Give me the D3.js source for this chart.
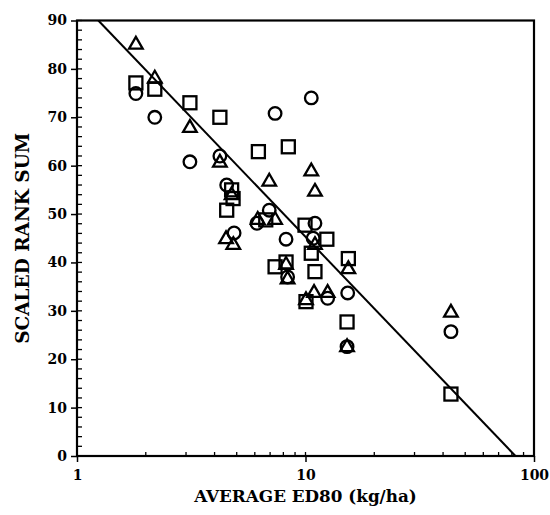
<!DOCTYPE html>
<html>
<head>
<meta charset="utf-8">
<script src="https://cdn.jsdelivr.net/npm/d3@7"></script>
<style>
    body { margin: 0; background: #fff; }
    svg text { font-family: "DejaVu Serif", serif; font-weight: bold; fill: #000; }
</style>
</head>
<body>
<svg id="chart" width="550" height="515"></svg>
<script>
// === DATA (ED80 in kg/ha, scaled rank sum) ===

const triangles = [
    [1.81, 85], [2.19, 78], [3.12, 67.8], [4.22, 60.6], [4.75, 53.9],
    [4.49, 44.8], [4.83, 43.6], [6.18, 48.8], [7.36, 48.8], [6.94, 56.7],
    [10.6, 58.8], [11.0, 54.6], [8.22, 39.5], [8.35, 36.5], [15.4, 38.6],
    [10.9, 33.7], [12.5, 33.7], [10.05, 32.2], [15.2, 22.5], [43.3, 29.6],
    [11.0, 43.6]
];

const squares = [
    [1.81, 77.1], [2.19, 75.8], [3.12, 73], [4.22, 70], [4.75, 55],
    [4.82, 53.2], [4.52, 50.8], [6.7, 48.8], [6.22, 62.9], [8.41, 63.9],
    [9.95, 47.7], [12.4, 44.8], [10.6, 41.9], [15.4, 40.8], [7.36, 39.1],
    [8.22, 40.1], [11.0, 38.1], [10.05, 31.9], [15.2, 27.7], [43.3, 12.8]
];

const circles = [
    [1.81, 74.9], [2.19, 70], [3.12, 60.8], [4.22, 62], [4.52, 56],
    [6.94, 50.8], [7.36, 70.8], [10.6, 74], [6.13, 48.1], [4.87, 46.1],
    [11.0, 48.1], [8.22, 44.8], [10.8, 45], [8.35, 37], [15.3, 33.7],
    [12.5, 32.6], [15.2, 22.6], [43.3, 25.7]
];

// fitted line: rank sum = a - b * log10(ED80)
const fitA = 94.6;
const fitB = 49.3;

const xMajor = [1, 10, 100];
const yMajor = [0, 10, 20, 30, 40, 50, 60, 70, 80, 90];

// === LAYOUT ===

const margin = { top: 20.5, right: 16, bottom: 59, left: 77 };
const W = 550, H = 515;

const svg = d3.select('#chart');

const x = d3.scaleLog().domain([1, 100]).range([margin.left, W - margin.right]);
const y = d3.scaleLinear().domain([0, 90]).range([H - margin.bottom, margin.top]);

// minor ticks
const xMinor = [];
[1, 10].forEach(d => { for (let k = 2; k <= 9; k++) xMinor.push(d * k); });
const yMinor = d3.range(0, 91, 2).filter(v => v % 10 !== 0);

// --- axes ---
const bottom = svg.append('g')
    .attr('transform', `translate(0,${y(0)})`);

bottom.call(d3.axisBottom(x).tickValues(xMajor).tickFormat(d3.format('d')).tickSize(6).tickSizeOuter(0))
    .call(g => g.select('.domain').remove())
    .call(g => g.selectAll('line').attr('stroke-width', 1.5))
    .call(g => g.selectAll('text').attr('font-size', 14).attr('dy', '1.05em'));

bottom.append('g')
    .selectAll('line')
    .data(xMinor.concat(xMajor))
    .join('line')
    .attr('x1', d => x(d)).attr('x2', d => x(d))
    .attr('y1', 0).attr('y2', -4)
    .attr('stroke', '#000').attr('stroke-width', 1.3);

const left = svg.append('g')
    .attr('transform', `translate(${x(1)},0)`);

left.call(d3.axisLeft(y).tickValues(yMajor).tickSize(6).tickSizeOuter(0).tickPadding(4))
    .call(g => g.select('.domain').remove())
    .call(g => g.selectAll('line').attr('stroke-width', 1.5))
    .call(g => g.selectAll('text').attr('font-size', 14));

left.append('g')
    .selectAll('line')
    .data(yMinor.concat(yMajor))
    .join('line')
    .attr('x1', 0).attr('x2', 5)
    .attr('y1', d => y(d)).attr('y2', d => y(d))
    .attr('stroke', '#000').attr('stroke-width', 1.3);

// frame
svg.append('rect')
    .attr('x', x(1)).attr('y', y(90))
    .attr('width', x(100) - x(1)).attr('height', y(0) - y(90))
    .attr('fill', 'none').attr('stroke', '#000').attr('stroke-width', 2.2);

// --- axis titles ---
svg.append('text')
    .attr('x', (x(1) + x(100)) / 2)
    .attr('y', 502)
    .attr('text-anchor', 'middle')
    .attr('font-size', 16.8)
    .text('AVERAGE ED80 (kg/ha)');

svg.append('text')
    .attr('transform', `translate(28.5,${(y(0) + y(90)) / 2}) rotate(-90)`)
    .attr('text-anchor', 'middle')
    .attr('font-size', 18.5)
    .text('SCALED RANK SUM');

// --- regression line (clipped to the frame) ---
const xTop = Math.pow(10, (fitA - 90) / fitB);
const xBot = Math.pow(10, fitA / fitB);
svg.append('line')
    .attr('x1', x(xTop)).attr('y1', y(90))
    .attr('x2', x(xBot)).attr('y2', y(0))
    .attr('stroke', '#000').attr('stroke-width', 2);

// --- markers ---
const marks = svg.append('g')
    .attr('fill', 'none').attr('stroke', '#000').attr('stroke-width', 2.3);

marks.selectAll('.sq')
    .data(squares)
    .join('rect')
    .attr('class', 'sq')
    .attr('x', d => x(d[0]) - 6.5).attr('y', d => y(d[1]) - 6.5)
    .attr('width', 13).attr('height', 13);

marks.selectAll('.ci')
    .data(circles)
    .join('circle')
    .attr('class', 'ci')
    .attr('cx', d => x(d[0])).attr('cy', d => y(d[1]))
    .attr('r', 6.3);

const tri = d3.symbol().type(d3.symbolTriangle).size(80);
marks.selectAll('.tr')
    .data(triangles)
    .join('path')
    .attr('class', 'tr')
    .attr('transform', d => `translate(${x(d[0])},${y(d[1])})`)
    .attr('d', tri);
</script>
</body>
</html>
